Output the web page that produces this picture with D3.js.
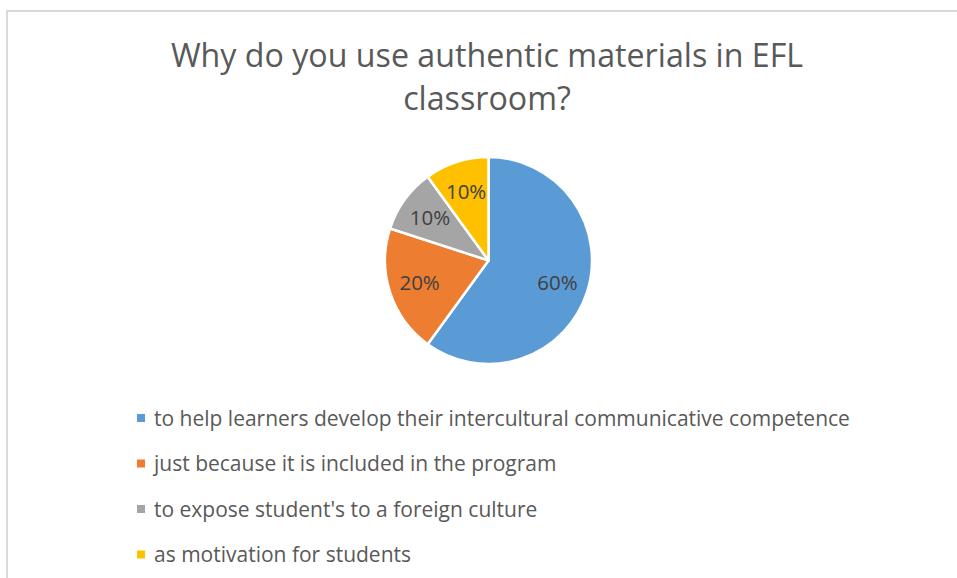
<!DOCTYPE html>
<html>
<head>
<meta charset="utf-8">
<script src="https://cdn.jsdelivr.net/npm/d3@7"></script>
<style>
  html, body { margin: 0; padding: 0; background: #fff; }
  svg { display: block; }
</style>
</head>
<body>
<svg id="chart" width="957" height="578"></svg>
<script>
// Survey answers and their shares (percent)
const categories = [
  "to help learners develop their intercultural communicative competence",
  "just because it is included in the program",
  "to expose student's to a foreign culture",
  "as motivation for students"
];
const values = [60, 20, 10, 10];
const colors = ["#5B9BD5", "#ED7D31", "#A5A5A5", "#FFC000"];
const titleLines = ["Why do you use authentic materials in EFL", "classroom?"];

const svg = d3.select("#chart");
const font = "'Open Sans', 'Noto Sans', sans-serif";

// chart area frame (runs off the right and bottom edges)
svg.append("rect")
  .attr("x", 7).attr("y", 11)
  .attr("width", 980).attr("height", 600)
  .attr("fill", "#fff")
  .attr("stroke", "#d9d9d9")
  .attr("stroke-width", 2);

// title
svg.append("g")
  .selectAll("text")
  .data(titleLines)
  .join("text")
  .attr("x", 487)
  .attr("y", (d, i) => 67 + i * 43)
  .attr("text-anchor", "middle")
  .attr("font-family", font)
  .attr("font-size", 32.2)
  .attr("fill", "#595959")
  .text(d => d);

// pie
const cx = 488.5, cy = 260.5, radius = 103.5;
const pie = d3.pie().sort(null).value(d => d.value);
const arcs = pie(values.map((v, i) => ({ value: v, name: categories[i], color: colors[i] })));
const arc = d3.arc().innerRadius(0).outerRadius(radius);
const labelArc = d3.arc().innerRadius(radius * 0.7).outerRadius(radius * 0.7);

const g = svg.append("g").attr("transform", `translate(${cx},${cy})`);
g.selectAll("path")
  .data(arcs)
  .join("path")
  .attr("d", arc)
  .attr("fill", d => d.data.color)
  .attr("stroke", "#fff")
  .attr("stroke-width", 2.5)
  .attr("stroke-linejoin", "round");

g.selectAll("text")
  .data(arcs)
  .join("text")
  .attr("transform", d => {
    const [x, y] = labelArc.centroid(d);
    return `translate(${x},${y})`;
  })
  .attr("text-anchor", "middle")
  .attr("dy", "0.36em")
  .attr("font-family", font)
  .attr("font-size", 20.5)
  .attr("fill", "#404040")
  .text(d => d.data.value + "%");

// legend
const legend = svg.append("g")
  .selectAll("g")
  .data(categories)
  .join("g")
  .attr("transform", (d, i) => `translate(137, ${418 + i * 45.5})`);

legend.append("rect")
  .attr("x", 0).attr("y", -4)
  .attr("width", 8).attr("height", 8)
  .attr("fill", (d, i) => colors[i]);

legend.append("text")
  .attr("x", 17)
  .attr("y", 0)
  .attr("dy", "0.36em")
  .attr("font-family", font)
  .attr("font-size", 21)
  .attr("fill", "#595959")
  .text(d => d);
</script>
</body>
</html>
